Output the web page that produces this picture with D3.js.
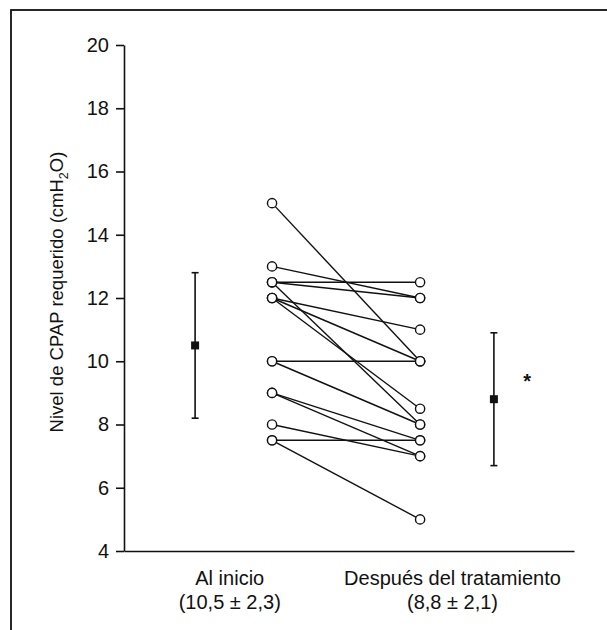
<!DOCTYPE html>
<html>
<head>
<meta charset="utf-8">
<style>
    body { margin: 0; background: #fff; }
    svg { font-family: "Liberation Sans", Arial, Helvetica, sans-serif; }
    .axis text { font-size: 20px; fill: #111; }
    .axis line, .axis path { stroke: #111; stroke-width: 1.6; }
    .xlab { font-size: 20px; fill: #111; }
    .ytitle { font-size: 18.5px; fill: #111; }
</style>
</head>
<body>
<svg width="607" height="630"></svg>

<script src="https://d3js.org/d3.v7.min.js"></script>
<script>
    // values
    const categories = ["Al inicio", "Después del tratamiento"];
    const summaryLabels = ["(10,5 \u00B1 2,3)", "(8,8 \u00B1 2,1)"];
    const before = [15, 13, 12.5, 12.5, 12.5, 12, 12, 12, 10, 10, 9, 9, 8, 7.5, 7.5];
    const after  = [10, 12, 12.5, 12, 8, 11, 10, 8.5, 10, 8, 7.5, 7, 7, 7.5, 5];
    const means = [10.5, 8.8];
    const sds = [2.3, 2.1];
    const yTicks = [4, 6, 8, 10, 12, 14, 16, 18, 20];

    let svg = d3.select("svg");

    let margin = { top: 45, right: 33, bottom: 79, left: 124 };
    let width = 607, height = 630;

    // frame around the figure (runs off the right/bottom edge)
    svg.append("rect")
        .attr("x", 11).attr("y", 10)
        .attr("width", 620).attr("height", 640)
        .attr("fill", "none")
        .attr("stroke", "#111")
        .attr("stroke-width", 1.8);

    let x = d3.scaleLinear()
        .domain([0, 100])
        .range([margin.left, width - margin.right]);

    let y = d3.scaleLinear()
        .domain([4, 20])
        .range([height - margin.bottom, margin.top]);

    // horizontal slots (in % of axis width)
    let pos = { meanL: 15.8, ptsL: 32.9, ptsR: 65.8, meanR: 82.2, star: 89.6, labL: 23.5, labR: 73 };

    let yAxis = svg.append("g")
        .attr("class", "y axis")
        .attr("transform", `translate(${x(0)},0)`)
        .call(d3.axisLeft(y).tickValues(yTicks).tickSize(8).tickSizeOuter(0).tickPadding(7).tickFormat(d3.format("d")));

    let xAxis = svg.append("g")
        .attr("class", "x axis")
        .attr("transform", `translate(0,${y(4)})`)
        .call(d3.axisBottom(x).tickValues([]).tickSizeOuter(0));

    // y title with subscript
    let yt = svg.append("text")
        .attr("class", "ytitle")
        .attr("transform", `translate(63,${(y(4) + y(20)) / 2 - 6}) rotate(-90)`)
        .attr("text-anchor", "middle");
    yt.append("tspan").text("Nivel de CPAP requerido (cmH");
    yt.append("tspan").attr("font-size", "12.5px").attr("dy", 5).text("2");
    yt.append("tspan").attr("dy", -5).text("O)");

    // paired lines
    let pairs = before.map((b, i) => ({ b: b, a: after[i] }));

    svg.append("g")
        .selectAll("line")
        .data(pairs)
        .join("line")
        .attr("x1", x(pos.ptsL))
        .attr("x2", x(pos.ptsR))
        .attr("y1", d => y(d.b))
        .attr("y2", d => y(d.a))
        .attr("stroke", "#111")
        .attr("stroke-width", 1.4);

    let pts = svg.append("g");
    pts.selectAll(".pb")
        .data(before)
        .join("circle")
        .attr("class", "pb")
        .attr("cx", x(pos.ptsL))
        .attr("cy", d => y(d))
        .attr("r", 4.6)
        .attr("fill", "#fff")
        .attr("stroke", "#111")
        .attr("stroke-width", 1.4);
    pts.selectAll(".pa")
        .data(after)
        .join("circle")
        .attr("class", "pa")
        .attr("cx", x(pos.ptsR))
        .attr("cy", d => y(d))
        .attr("r", 4.6)
        .attr("fill", "#fff")
        .attr("stroke", "#111")
        .attr("stroke-width", 1.4);

    // mean +- sd
    let summ = means.map((m, i) => ({ m: m, sd: sds[i], xp: i == 0 ? pos.meanL : pos.meanR }));
    let eb = svg.append("g").selectAll("g").data(summ).join("g");
    eb.append("line")
        .attr("x1", d => x(d.xp)).attr("x2", d => x(d.xp))
        .attr("y1", d => y(d.m + d.sd)).attr("y2", d => y(d.m - d.sd))
        .attr("stroke", "#111").attr("stroke-width", 1.6);
    eb.append("line")
        .attr("x1", d => x(d.xp) - 3.5).attr("x2", d => x(d.xp) + 3.5)
        .attr("y1", d => y(d.m + d.sd)).attr("y2", d => y(d.m + d.sd))
        .attr("stroke", "#111").attr("stroke-width", 1.6);
    eb.append("line")
        .attr("x1", d => x(d.xp) - 3.5).attr("x2", d => x(d.xp) + 3.5)
        .attr("y1", d => y(d.m - d.sd)).attr("y2", d => y(d.m - d.sd))
        .attr("stroke", "#111").attr("stroke-width", 1.6);
    eb.append("path")
        .attr("transform", d => `translate(${x(d.xp)},${y(d.m)})`)
        .attr("d", d3.symbol(d3.symbolSquare, 64))
        .attr("fill", "#111");

    // significance mark next to the second group
    svg.append("text")
        .attr("x", x(pos.star))
        .attr("y", y(means[1]) - 11)
        .attr("text-anchor", "middle")
        .attr("font-size", "20px")
        .attr("font-weight", "bold")
        .attr("fill", "#111")
        .text("*");

    // category labels
    let labs = svg.append("g").selectAll("g")
        .data(categories)
        .join("g");
    labs.append("text")
        .attr("class", "xlab")
        .attr("x", (d, i) => x(i == 0 ? pos.labL : pos.labR))
        .attr("y", y(4) + 34)
        .attr("text-anchor", "middle")
        .text(d => d);
    labs.append("text")
        .attr("class", "xlab")
        .attr("x", (d, i) => x(i == 0 ? pos.labL : pos.labR))
        .attr("y", y(4) + 58)
        .attr("text-anchor", "middle")
        .text((d, i) => summaryLabels[i]);
</script>
</body>
</html>
